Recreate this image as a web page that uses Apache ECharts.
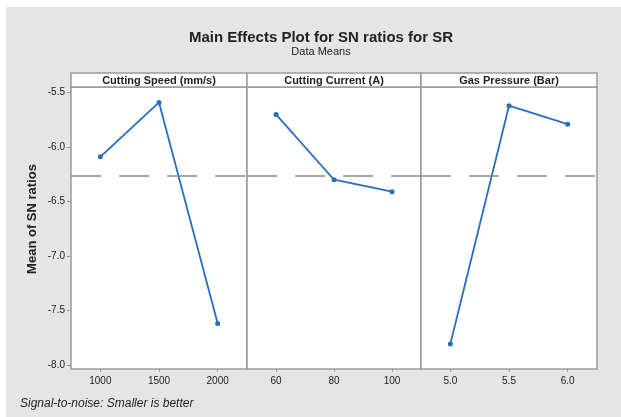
<!DOCTYPE html>
<html><head><meta charset="utf-8">
<script src="https://cdn.jsdelivr.net/npm/echarts@6/dist/echarts.min.js"></script>
<style>html,body{margin:0;padding:0;background:#fff;}#c{width:621px;height:417px;}</style>
</head><body><div id="c"></div>
<script>
const panelTitles = ['Cutting Speed (mm/s)', 'Cutting Current (A)', 'Gas Pressure (Bar)'];
const speedLevels = ['1000', '1500', '2000'];
const speedSN = [-6.09, -5.59, -7.62];
const currentLevels = ['60', '80', '100'];
const currentSN = [-5.70, -6.30, -6.41];
const pressureLevels = ['5.0', '5.5', '6.0'];
const pressureSN = [-7.81, -5.62, -5.79];
const overallMean = -6.26;
const yTicks = [-5.5, -6.0, -6.5, -7.0, -7.5, -8.0];

const levels = [speedLevels, currentLevels, pressureLevels];
const values = [speedSN, currentSN, pressureSN];

const chart = echarts.init(document.getElementById('c'), null, {renderer: 'canvas'});
const font = 'Liberation Sans';
const panels = [{left: 71, width: 176}, {left: 247, width: 174}, {left: 421, width: 176}];
const gridTop = 87, gridHeight = 282;

const grids = panels.map(p => ({left: p.left, width: p.width, top: gridTop, height: gridHeight,
  show: true, backgroundColor: '#fff', borderColor: '#9a9a9a', borderWidth: 1.5}));

const xAxes = levels.map((lv, i) => ({
  type: 'category', gridIndex: i, data: lv, boundaryGap: true,
  axisLine: {show: false},
  axisTick: {show: true, alignWithLabel: true, length: 3, lineStyle: {color: '#9a9a9a'}},
  axisLabel: {fontFamily: font, fontSize: 10, color: '#222', margin: 7},
  splitLine: {show: false}
}));

const yAxes = levels.map((lv, i) => ({
  type: 'value', gridIndex: i, min: -8.039, max: -5.448,
  axisLine: {show: false},
  axisTick: {show: i === 0, length: 4, customValues: yTicks, lineStyle: {color: '#9a9a9a'}},
  axisLabel: {show: i === 0, customValues: yTicks, fontFamily: font, fontSize: 10, color: '#222', margin: 6,
    formatter: v => v.toFixed(1)},
  splitLine: {show: false}
}));

const series = values.map((v, i) => ({
  type: 'line', xAxisIndex: i, yAxisIndex: i, data: v,
  symbol: 'circle', symbolSize: 5, color: '#2a6cbf',
  lineStyle: {color: '#2a6cbf', width: 1.8},
  itemStyle: {color: '#2a6cbf'},
  animation: false,
  markLine: {silent: true, symbol: 'none', label: {show: false},
    lineStyle: {color: '#8a8a8a', type: [30, 18], width: 1.5},
    data: [{yAxis: overallMean}]}
}));

const graphic = [
  {type: 'rect', z: -10, shape: {x: 6, y: 7, width: 615, height: 410}, style: {fill: '#e5e5e5'}}
];
panels.forEach((p, i) => {
  graphic.push({type: 'rect', shape: {x: p.left, y: 73, width: p.width, height: 14},
    style: {fill: '#fff', stroke: '#9a9a9a', lineWidth: 1.5}});
  graphic.push({type: 'text', x: p.left + p.width / 2, y: 80.5,
    style: {text: panelTitles[i], fontFamily: font, fontSize: 11, fontWeight: 'bold', fill: '#222',
      align: 'center', verticalAlign: 'middle'}});
});
graphic.push({type: 'text', x: 32, y: 219, rotation: Math.PI / 2,
  style: {text: 'Mean of SN ratios', fontFamily: font, fontSize: 13, fontWeight: 'bold', fill: '#222',
    align: 'center', verticalAlign: 'middle'}});
graphic.push({type: 'text', x: 20, y: 404,
  style: {text: 'Signal-to-noise: Smaller is better', fontFamily: font, fontSize: 12, fontStyle: 'italic',
    fill: '#222', align: 'left', verticalAlign: 'middle'}});

chart.setOption({
  animation: false,
  backgroundColor: '#fff',
  title: [
    {text: 'Main Effects Plot for SN ratios for SR', left: 316, top: 25, textAlign: 'center',
      textStyle: {fontFamily: font, fontSize: 15, fontWeight: 'bold', color: '#222'}},
    {text: 'Data Means', left: 316, top: 41, textAlign: 'center',
      textStyle: {fontFamily: font, fontSize: 11, fontWeight: 'normal', color: '#222'}}
  ],
  grid: grids, xAxis: xAxes, yAxis: yAxes, series: series, graphic: graphic
});
</script></body></html>
